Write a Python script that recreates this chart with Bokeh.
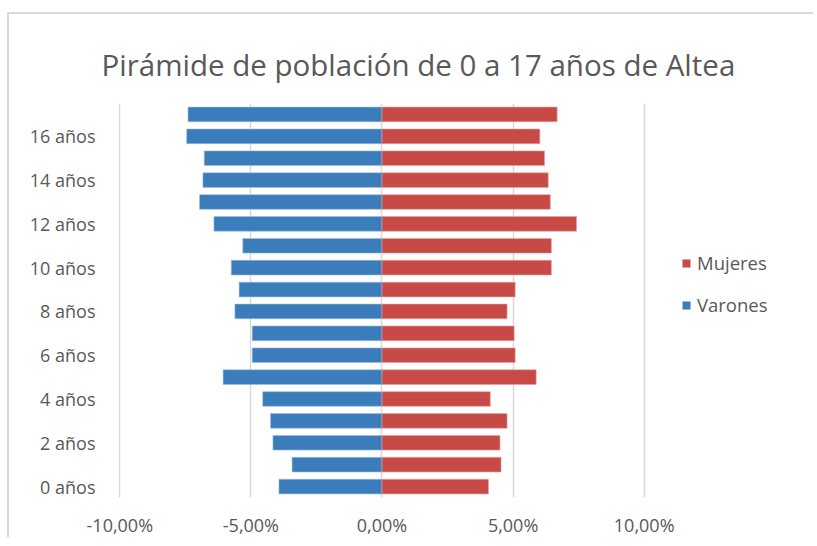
from bokeh.plotting import figure
from bokeh.models import FixedTicker, Legend, LegendItem, Title
from bokeh.embed import file_html
from bokeh.resources import INLINE

# Data (percent of total population 0-17)
ages = list(range(18))
age_labels = {0: "0 años", 2: "2 años", 4: "4 años", 6: "6 años", 8: "8 años",
              10: "10 años", 12: "12 años", 14: "14 años", 16: "16 años"}
varones = [3.93, 3.43, 4.16, 4.25, 4.55, 6.06, 4.95, 4.95, 5.61,
           5.45, 5.75, 5.31, 6.41, 6.96, 6.83, 6.78, 7.45, 7.40]
mujeres = [4.06, 4.54, 4.50, 4.77, 4.13, 5.88, 5.08, 5.04, 4.77,
           5.08, 6.46, 6.46, 7.42, 6.42, 6.34, 6.20, 6.02, 6.68]
x_ticks = [-10, -5, 0, 5, 10]
x_tick_labels = ["-10,00%", "-5,00%", "0,00%", "5,00%", "10,00%"]

BLUE = "#3A7DBA"
RED = "#C84A47"
GRAY_TXT = "#595959"
FONT = "Open Sans"

p = figure(width=806, height=525, output_backend="svg", toolbar_location=None,
           x_range=(-10.05, 16.0), y_range=(-0.5, 17.5),
           min_border_left=109, min_border_right=14, min_border_top=89, min_border_bottom=42)
p.styles = {"margin-left": "7px", "margin-top": "12px",
            "border-left": "2px solid #d9d9d9", "border-top": "2px solid #d9d9d9",
            "border-right": "none", "border-bottom": "none"}
p.outline_line_color = None

# invisible spacer between the title and the plot area
spacer = Title(text=".", text_font_size="1px", text_alpha=0, standoff=9)
p.add_layout(spacer, "above")

p.title.text = "Pirámide de población de 0 a 17 años de Altea"
p.title.align = "left"
p.title.vertical_align = "top"
p.title.text_font = FONT
p.title.text_font_style = "normal"
p.title.text_font_size = "29.5px"
p.title.text_color = GRAY_TXT
p.title.offset = -17
p.title.standoff = 34

neg_varones = [-v for v in varones]
rv = p.hbar(y=ages, left=neg_varones, right=0, height=0.67, fill_color=BLUE,
            line_color="#9dbfe0", line_width=0.6)
rm = p.hbar(y=ages, left=0, right=mujeres, height=0.67, fill_color=RED,
            line_color="#e2a3a1", line_width=0.6)

# axes
p.xaxis.ticker = FixedTicker(ticks=x_ticks)
p.xaxis.major_label_overrides = dict(zip(x_ticks, x_tick_labels))
p.yaxis.ticker = FixedTicker(ticks=list(age_labels.keys()))
p.yaxis.major_label_overrides = age_labels
for ax in (p.xaxis, p.yaxis):
    ax.axis_line_color = None
    ax.major_tick_line_color = None
    ax.minor_tick_line_color = None
    ax.major_tick_out = 0
    ax.major_tick_in = 0
    ax.minor_tick_out = 0
    ax.major_label_text_font = FONT
    ax.major_label_text_font_size = "18px"
    ax.major_label_text_color = GRAY_TXT
p.xaxis.major_label_standoff = 15
p.yaxis.major_label_standoff = 23

p.xgrid.ticker = FixedTicker(ticks=x_ticks)
p.xgrid.grid_line_color = "#d9d9d9"
p.xgrid.grid_line_width = 1.5
p.ygrid.grid_line_color = None

legend = Legend(items=[LegendItem(label="Mujeres", renderers=[rm]),
                       LegendItem(label="Varones", renderers=[rv])],
                location=(563, 180))
legend.padding = 0
legend.margin = 0
legend.spacing = 17
legend.border_line_color = None
legend.background_fill_alpha = 0
legend.glyph_width = 10
legend.glyph_height = 10
legend.label_standoff = 6
legend.label_text_font = FONT
legend.label_text_font_size = "18.5px"
legend.label_text_color = GRAY_TXT
legend.label_height = 24
p.add_layout(legend, "center")

open("out.html", "w").write(file_html(p, INLINE))
